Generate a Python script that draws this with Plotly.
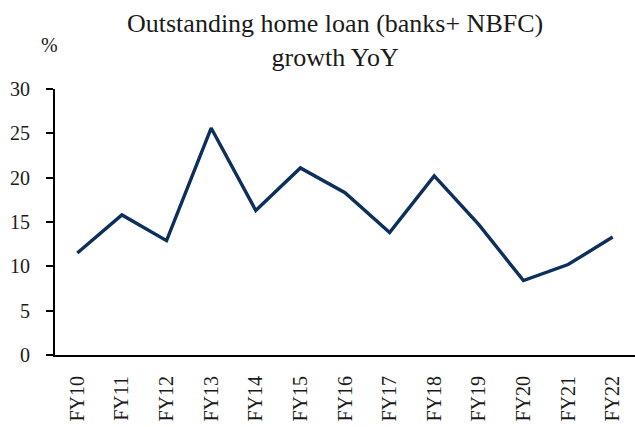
import plotly.graph_objects as go

# Fiscal years and YoY growth of outstanding home loans (%)
years = ["FY10", "FY11", "FY12", "FY13", "FY14", "FY15", "FY16",
         "FY17", "FY18", "FY19", "FY20", "FY21", "FY22"]
growth = [11.5, 15.8, 12.9, 25.6, 16.3, 21.1, 18.3,
          13.8, 20.2, 14.7, 8.4, 10.2, 13.3]
y_ticks = [0, 5, 10, 15, 20, 25, 30]

serif = "Book Antiqua, Palatino Linotype, Liberation Serif, DejaVu Serif, serif"
text_color = "#1a1a1a"

fig = go.Figure(
    go.Scatter(
        x=years,
        y=growth,
        mode="lines",
        line=dict(color="#0c2f5c", width=3.4),
        hoverinfo="x+y",
    )
)

fig.update_layout(
    width=635,
    height=427,
    margin=dict(l=55, r=0, t=89, b=72),
    paper_bgcolor="white",
    plot_bgcolor="white",
    showlegend=False,
    font=dict(family=serif, size=20, color=text_color),
    annotations=[
        # chart title
        dict(
            text="Outstanding home loan (banks+ NBFC)<br>growth YoY",
            xref="paper",
            yref="paper",
            x=0.483,
            y=1.182,
            xanchor="center",
            yanchor="middle",
            showarrow=False,
            font=dict(family=serif, size=26, color=text_color),
        ),
        # unit label
        dict(
            text="%",
            xref="paper",
            yref="paper",
            x=-0.009,
            y=1.165,
            xanchor="center",
            yanchor="middle",
            showarrow=False,
            font=dict(family=serif, size=20, color=text_color),
        ),
    ],
)

fig.update_xaxes(
    type="category",
    range=[-0.5, len(years) - 0.5],
    showline=True,
    linecolor="black",
    linewidth=2,
    ticks="",
    tickangle=-90,
    ticklabelstandoff=11,
    showgrid=False,
    tickfont=dict(family="Liberation Serif, serif", size=20, color=text_color),
)

fig.update_yaxes(
    range=[0, 30],
    tickvals=y_ticks,
    showline=True,
    linecolor="black",
    linewidth=2,
    ticks="outside",
    ticklen=7,
    tickwidth=1.5,
    tickcolor="black",
    ticklabelstandoff=12,
    showgrid=False,
    zeroline=False,
    tickfont=dict(family=serif, size=20, color=text_color),
)

fig.write_html("out.html")
